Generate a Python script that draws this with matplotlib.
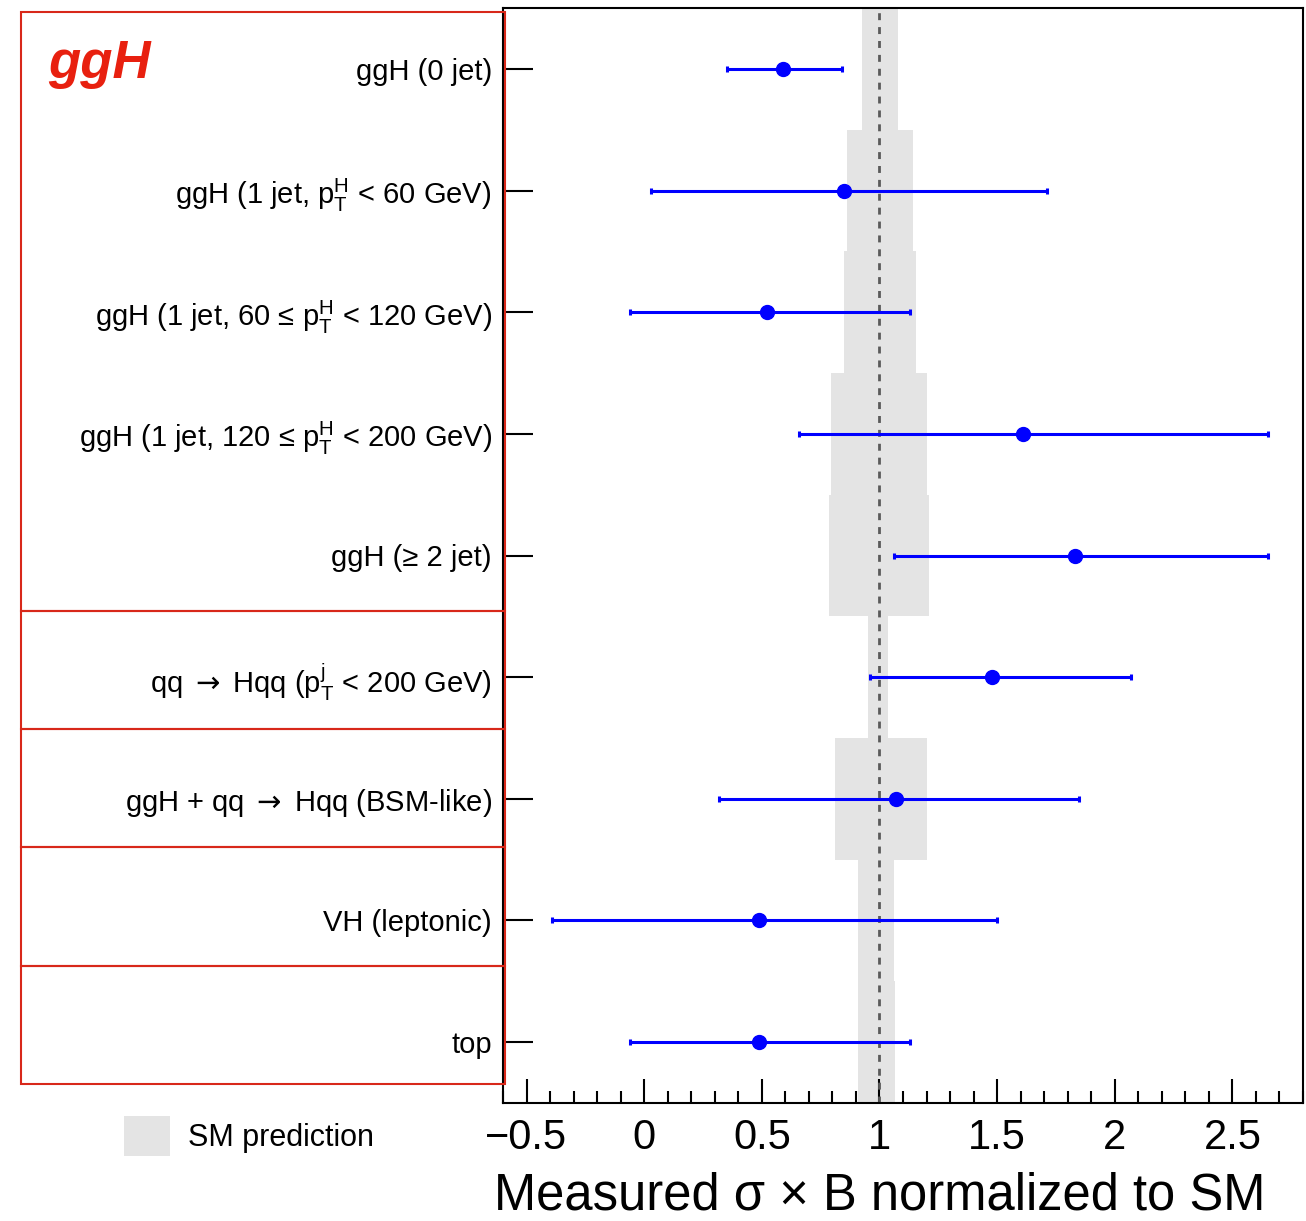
import matplotlib
matplotlib.use("Agg")
import matplotlib.pyplot as plt
from matplotlib.patches import Rectangle, Patch
from matplotlib.ticker import MultipleLocator

plt.rcParams['font.family'] = ['Liberation Sans', 'DejaVu Sans']
plt.rcParams['mathtext.fontset'] = 'custom'
plt.rcParams['mathtext.rm'] = 'Liberation Sans'
plt.rcParams['mathtext.it'] = 'Liberation Sans:italic'
plt.rcParams['mathtext.bf'] = 'Liberation Sans:bold'
plt.rcParams['mathtext.sf'] = 'DejaVu Sans'

# data
arrow = r"$\mathsf{\rightarrow}$"
categories = [
    "ggH (0 jet)",
    r"ggH (1 jet, p$_{\mathrm{T}}^{\mathrm{H}}$ < 60 GeV)",
    r"ggH (1 jet, 60 ≤ p$_{\mathrm{T}}^{\mathrm{H}}$ < 120 GeV)",
    r"ggH (1 jet, 120 ≤ p$_{\mathrm{T}}^{\mathrm{H}}$ < 200 GeV)",
    "ggH (≥ 2 jet)",
    "qq " + arrow + r" Hqq (p$_{\mathrm{T}}^{\mathrm{j}}$ < 200 GeV)",
    "ggH + qq " + arrow + " Hqq (BSM-like)",
    "VH (leptonic)",
    "top",
]
mu = [0.59, 0.85, 0.52, 1.61, 1.83, 1.48, 1.07, 0.49, 0.49]
mu_lo = [0.35, 0.03, -0.06, 0.66, 1.06, 0.96, 0.32, -0.39, -0.06]
mu_hi = [0.84, 1.71, 1.13, 2.65, 2.65, 2.07, 1.85, 1.50, 1.13]
sm_lo = [0.925, 0.86, 0.848, 0.793, 0.786, 0.953, 0.813, 0.908, 0.908]
sm_hi = [1.078, 1.143, 1.156, 1.204, 1.212, 1.037, 1.204, 1.061, 1.068]

W, H = 1306, 1221
fig = plt.figure(figsize=(W / 100, H / 100), dpi=100)
ax = fig.add_axes([503 / W, 1 - 1103 / H, 800 / W, 1095 / H])

ypos = [i + 0.5 for i in range(len(categories))]

# SM prediction bands
ax.barh(ypos, [h - l for l, h in zip(sm_lo, sm_hi)], left=sm_lo, height=1.0,
        color='#e4e4e4', zorder=1)
ax.axvline(1.0, color='#5a5a5a', lw=2, ls=(0, (2.5, 2.5)), zorder=2)

# measurements
xerr = [[m - l for m, l in zip(mu, mu_lo)], [h - m for m, h in zip(mu, mu_hi)]]
ax.errorbar(mu, ypos, xerr=xerr, fmt='o', color='#0000ff', ms=10,
            elinewidth=2.2, capsize=2.5, capthick=2.2, zorder=3)

ax.set_xlim(-0.6, 2.8)
ax.set_ylim(len(categories), 0)
ax.xaxis.set_major_locator(MultipleLocator(0.5))
ax.xaxis.set_minor_locator(MultipleLocator(0.1))
ax.set_yticks(ypos)
ax.set_yticklabels(categories)
ax.xaxis.set_major_formatter(matplotlib.ticker.FuncFormatter(
    lambda v, p: ("−" if v < 0 else "") + ("%g" % abs(v))))

ax.tick_params(axis='x', which='major', direction='in', length=17, width=1.5,
               labelsize=30, pad=11, top=False)
ax.tick_params(axis='x', which='minor', direction='in', length=8.5, width=1.5,
               top=False)
ax.tick_params(axis='y', which='major', direction='in', length=21.5, width=1.5,
               labelsize=21, pad=8, right=False)
for s in ax.spines.values():
    s.set_linewidth(1.5)

# red category boxes
edges = [12, 611, 729, 847, 966, 1084]
for top, bot in zip(edges[:-1], edges[1:]):
    fig.patches.append(Rectangle((21 / W, 1 - bot / H), (505 - 21) / W, (bot - top) / H,
                                 transform=fig.transFigure, fill=False,
                                 edgecolor='#d8281a', lw=1.5))

fig.text(48 / W, 1 - 64 / H, "ggH", color='#e8200f', fontsize=38,
         fontweight='bold', fontstyle='italic', ha='left', va='center')

fig.text(880 / W, 1 - 1210 / H, "Measured σ × B normalized to SM",
         fontsize=36.5, ha='center', va='baseline')

fig.legend(handles=[Patch(facecolor='#e4e4e4', edgecolor='none', label='SM prediction')],
           loc='center left', bbox_to_anchor=(124 / W, 1 - 1136 / H), frameon=False,
           fontsize=22, handlelength=1.5, handleheight=1.65, handletextpad=0.6,
           borderpad=0, borderaxespad=0)

fig.savefig("out.png", dpi=100)
